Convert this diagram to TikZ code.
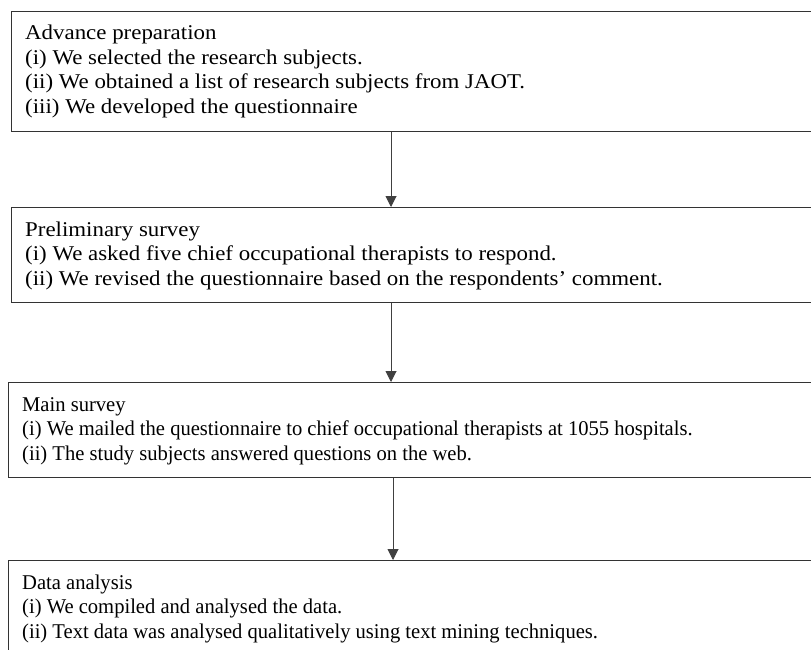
\documentclass[tikz,border=0pt]{standalone}
\usepackage{fontspec}
\setmainfont{Liberation Serif}[FakeStretch=1.09]
\newfontfamily\condfont{Liberation Serif}[FakeStretch=0.98]
\usetikzlibrary{arrows.meta}
\tikzset{
  stagebox/.style={draw=black!80, line width=1.3pt, rectangle, inner sep=0pt, anchor=north west},
  line/.style={anchor=base west, inner sep=0pt, font=\fontsize{21}{24.5}\selectfont},
  cline/.style={anchor=base west, inner sep=0pt, font=\fontsize{21}{24.5}\selectfont\condfont},
  flow/.style={draw=black!75, line width=1pt, -{Triangle[length=11pt,width=11pt]}}
}
\begin{document}
\begin{tikzpicture}[x=1pt,y=-1pt]
\useasboundingbox (0,0) rectangle (811,650);
\clip (0,0) rectangle (811,650);
% boxes
\node[stagebox, minimum width=830pt, minimum height=120pt] (b1) at (11,11) {};
\node[stagebox, minimum width=830pt, minimum height=95pt] (b2) at (11,207) {};
\node[stagebox, minimum width=830pt, minimum height=95pt] (b3) at (8,382) {};
\node[stagebox, minimum width=830pt, minimum height=140pt] (b4) at (8,560) {};
% texts box 1
\node[line] (t11) at (25,40) {Advance preparation};
\node[line] (t12) at (25,64.5) {(i) We selected the research subjects.};
\node[line] (t13) at (25,89) {(ii) We obtained a list of research subjects from JAOT.};
\node[line] (t14) at (25,113.5) {(iii) We developed the questionnaire};
% box 2
\node[line] (t21) at (25,236) {Preliminary survey};
\node[line] (t22) at (25,260.5) {(i) We asked five chief occupational therapists to respond.};
\node[line] (t23) at (25,285) {(ii) We revised the questionnaire based on the respondents’ comment.};
% box 3
\node[cline] (t31) at (22,411) {Main survey};
\node[cline] (t32) at (22,435.5) {(i) We mailed the questionnaire to chief occupational therapists at 1055 hospitals.};
\node[cline] (t33) at (22,460) {(ii) The study subjects answered questions on the web.};
% box 4
\node[cline] (t41) at (22,589) {Data analysis};
\node[cline] (t42) at (22,613.5) {(i) We compiled and analysed the data.};
\node[cline] (t43) at (22,638) {(ii) Text data was analysed qualitatively using text mining techniques.};
% connectors
\coordinate (a1) at (391,0);
\coordinate (a3) at (393,0);
\draw[flow] (b1.south -| a1) -- (b2.north -| a1);
\draw[flow] (b2.south -| a1) -- (b3.north -| a1);
\draw[flow] (b3.south -| a3) -- (b4.north -| a3);
\end{tikzpicture}
\end{document}
